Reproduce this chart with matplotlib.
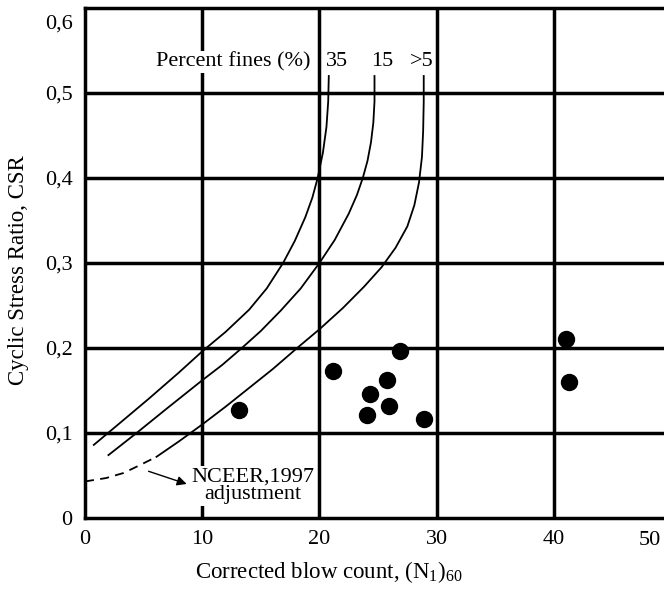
import matplotlib
matplotlib.use("Agg")
import matplotlib.pyplot as plt
from matplotlib.transforms import ScaledTranslation

plt.rcParams['font.family'] = ['Liberation Serif', 'DejaVu Serif']
plt.rcParams['mathtext.fontset'] = 'custom'
plt.rcParams['mathtext.rm'] = 'Liberation Serif'
plt.rcParams['mathtext.it'] = 'Liberation Serif:italic'
plt.rcParams['font.size'] = 16

# curve for 35 % fines
x35 = [0.75, 3.0, 5.5, 8.0, 10.0, 12.0, 14.0, 15.5, 16.9, 17.9, 18.8, 19.4, 19.85, 20.3, 20.6, 20.75, 20.8]
y35 = [0.086, 0.112, 0.141, 0.171, 0.196, 0.219, 0.245, 0.270, 0.300, 0.326, 0.354, 0.377, 0.400, 0.430, 0.460, 0.490, 0.520]

# curve for 15 % fines
x15 = [2.0, 4.4, 7.0, 10.0, 11.7, 13.3, 15.0, 16.7, 18.4, 20.0, 21.3, 22.5, 23.2, 23.7, 24.1, 24.4, 24.6, 24.7, 24.7]
y15 = [0.074, 0.100, 0.129, 0.162, 0.180, 0.199, 0.220, 0.244, 0.270, 0.300, 0.327, 0.358, 0.380, 0.400, 0.420, 0.442, 0.465, 0.490, 0.520]

# curve for <5 % fines
x5 = [6.1, 8.0, 10.0, 12.0, 14.0, 16.0, 18.1, 20.0, 22.0, 23.8, 25.3, 26.5, 27.5, 28.1, 28.5, 28.75, 28.85, 28.9, 28.9]
y5 = [0.072, 0.090, 0.110, 0.131, 0.153, 0.175, 0.200, 0.222, 0.247, 0.272, 0.295, 0.318, 0.343, 0.368, 0.395, 0.425, 0.455, 0.490, 0.520]

# NCEER 1997 adjustment (dashed)
xadj = [0.0, 1.8, 3.3, 4.8, 6.1]
yadj = [0.043, 0.047, 0.053, 0.063, 0.072]

# field data points
n160 = [13.1, 21.2, 26.9, 25.8, 24.3, 24.1, 25.9, 28.9, 41.0, 41.3]
csr = [0.127, 0.173, 0.197, 0.162, 0.146, 0.121, 0.132, 0.116, 0.211, 0.160]

xticks = [0, 10, 20, 30, 40]
yticks = [0, 0.1, 0.2, 0.3, 0.4, 0.5, 0.6]
ylabels = ['0', '0,1', '0,2', '0,3', '0,4', '0,5', '0,6']

fig = plt.figure(figsize=(6.64, 5.93), dpi=100)
ax = fig.add_axes([85/664, 75/593, 579/664, 510/593])
ax.set_xlim(0, 49.4)
ax.set_ylim(0, 0.6)

for g in [10, 20, 30, 40]:
    ax.axvline(g, color='black', lw=2.5, zorder=1)
for g in [0.1, 0.2, 0.3, 0.4, 0.5]:
    ax.axhline(g, color='black', lw=2.5, zorder=1)

ax.spines['right'].set_visible(False)
for s in ['left', 'top', 'bottom']:
    ax.spines[s].set_linewidth(2.5)

ax.plot(x35, y35, color='black', lw=1.3, zorder=3)
ax.plot(x15, y15, color='black', lw=1.3, zorder=3)
ax.plot(x5, y5, color='black', lw=1.3, zorder=3)
ax.plot(xadj, yadj, color='black', lw=1.3, ls=(0, (5, 3.5)), zorder=3)
ax.plot(n160, csr, 'o', color='black', ms=11.5, zorder=4)

ax.set_xticks(xticks)
ax.set_xticklabels([str(t) for t in xticks])
ax.set_yticks(yticks)
ax.set_yticklabels(ylabels)
ax.tick_params(length=0, labelsize=16)
ax.tick_params(axis='y', pad=9)
ax.tick_params(axis='x', pad=8.5)
# top label sits a little lower than its line
lab6 = ax.get_yticklabels()[-1]
lab6.set_transform(lab6.get_transform() + ScaledTranslation(0, -14/100, fig.dpi_scale_trans))

ax.text(48.2, -0.026, '50', ha='center', va='center', fontsize=16, clip_on=False)

ax.text(19.2, 0.537, 'Percent fines (%)', ha='right', va='center', fontsize=16,
        bbox=dict(facecolor='white', edgecolor='none', pad=1), zorder=2)
ax.text(21.5, 0.537, '35', ha='center', va='center', fontsize=16, zorder=2)
ax.text(25.4, 0.537, '15', ha='center', va='center', fontsize=16, zorder=2)
ax.text(28.7, 0.537, '>5', ha='center', va='center', fontsize=16, zorder=2)

ax.text(14.3, 0.038, 'NCEER,1997\nadjustment', ha='center', va='center', fontsize=16,
        linespacing=0.95, multialignment='center',
        bbox=dict(facecolor='white', edgecolor='none', pad=1), zorder=2)
ax.annotate('', xy=(8.9, 0.039), xytext=(5.2, 0.056),
            arrowprops=dict(arrowstyle='-|>', color='black', lw=1.0, mutation_scale=14), zorder=3)

ax.set_ylabel('Cyclic Stress Ratio, CSR', fontsize=16.5, va='center')
ax.yaxis.set_label_coords(-0.114, 0.486)
ax.set_xlabel(r'Corrected blow count, (N$_1$)$_{60}$', fontsize=16.5)
ax.xaxis.label.set_va('baseline')
ax.xaxis.set_label_coords(0.421, -0.1176)

fig.savefig('out.png', dpi=100)
